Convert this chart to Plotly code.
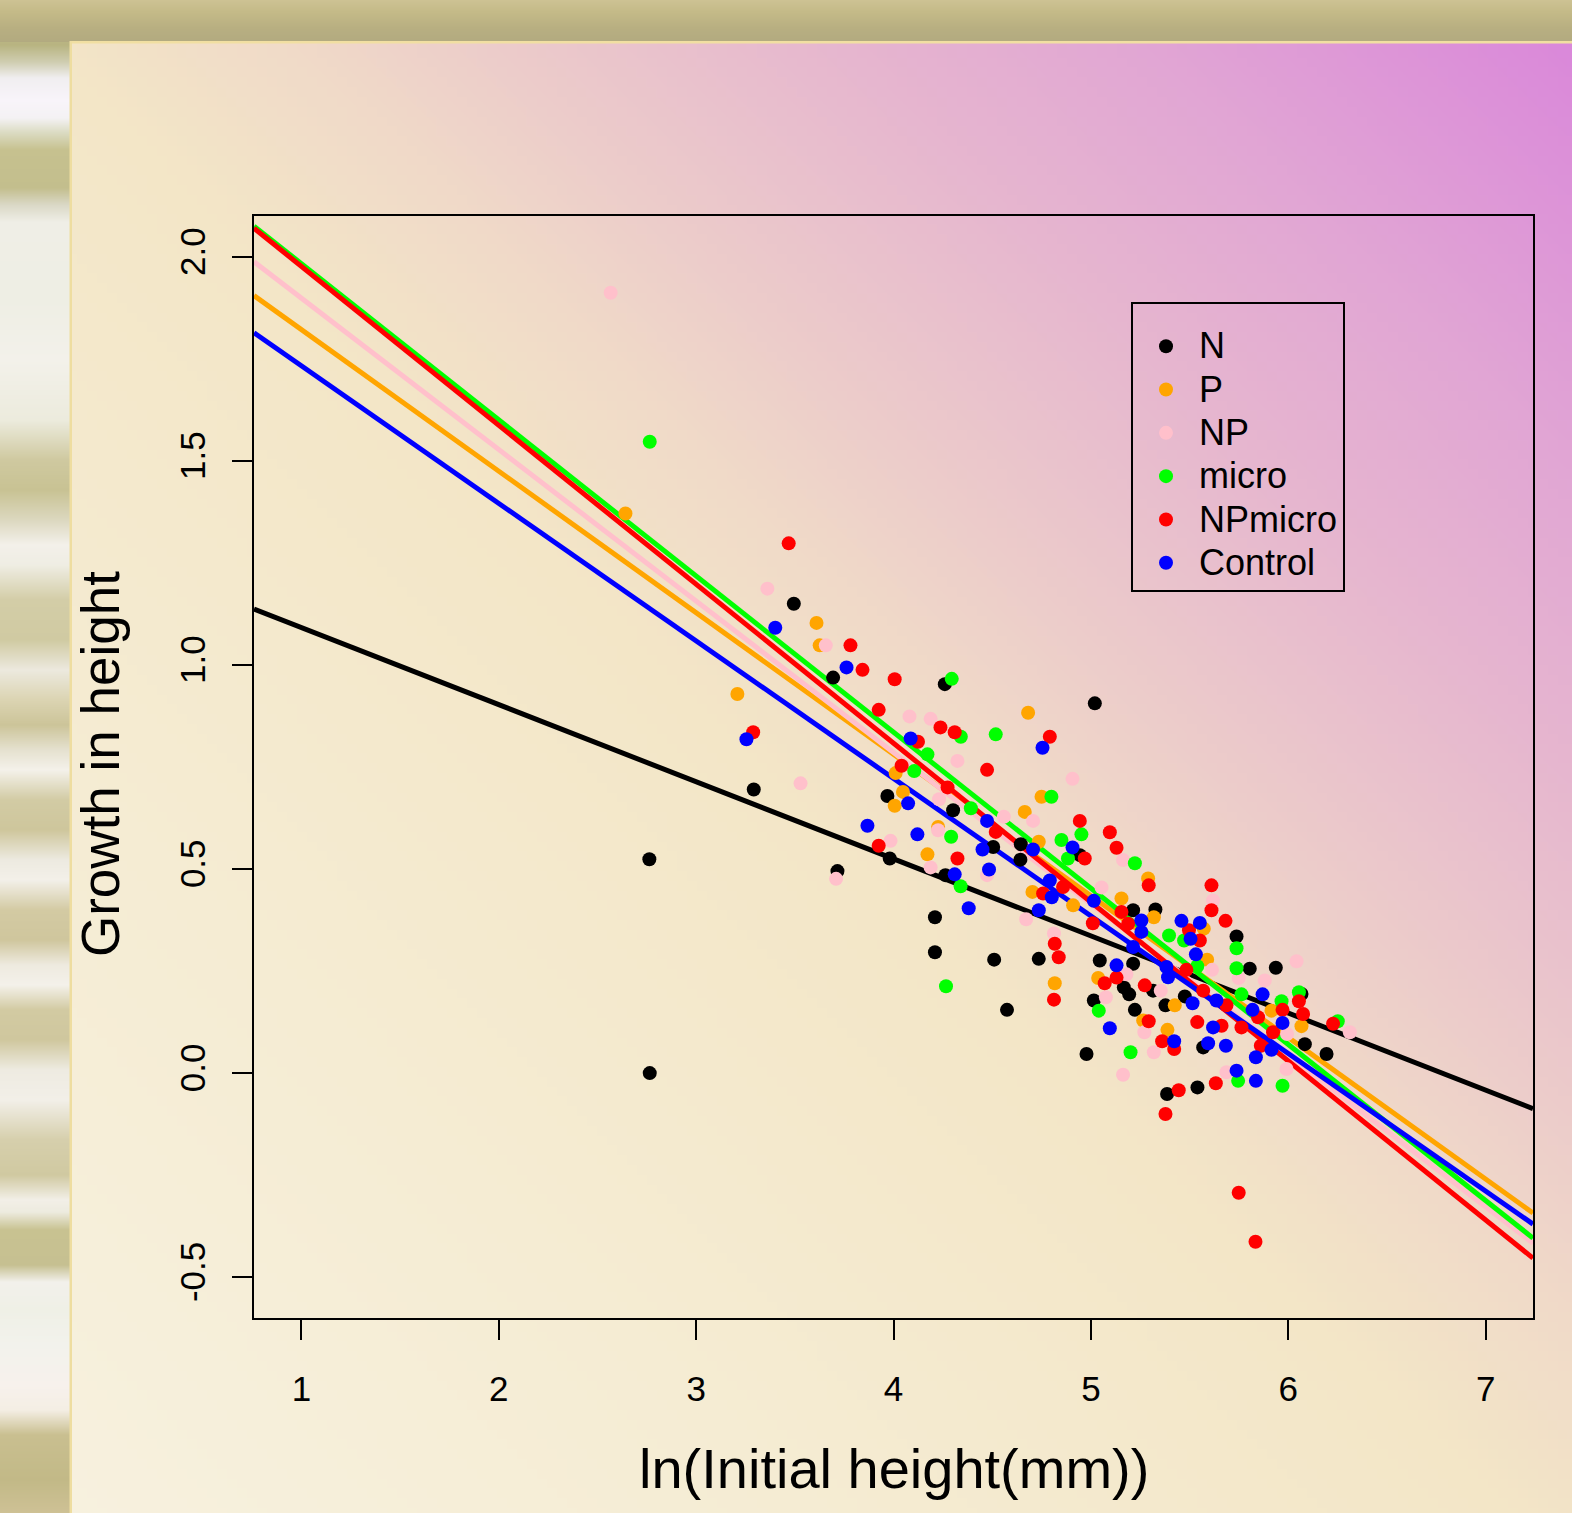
import base64, struct, zlib
import numpy as np
import plotly.graph_objects as go

# ---------------- data ----------------
groups = ["N", "P", "NP", "micro", "NPmicro", "Control"]
colors = ["#000000", "#FFA500", "#FFC0CB", "#00FF00", "#FF0000", "#0000FF"]

N_x = [2.763, 2.765, 3.495, 3.694, 4.260, 5.020, 3.292, 3.969, 4.302, 4.505, 4.645, 4.643, 4.944, 3.981,
       3.716, 4.263, 4.210, 4.210, 4.510, 4.736, 4.575, 5.045, 5.214, 5.167, 5.194, 5.015, 5.223, 4.978,
       5.214, 5.327, 5.315, 5.378, 5.476, 5.386, 5.540, 5.569, 5.738, 5.805, 5.937, 6.067, 6.084, 6.194]
N_y = [0.524, 0.000, 1.150, 0.969, 0.953, 0.906, 0.695, 0.679, 0.644, 0.554, 0.561, 0.523, 0.534, 0.526,
       0.495, 0.485, 0.382, 0.296, 0.278, 0.280, 0.155, 0.276, 0.268, 0.210, 0.193, 0.178, 0.155, 0.047,
       0.399, 0.401, 0.202, 0.166, 0.188, -0.051, -0.035, 0.063, 0.335, 0.256, 0.258, 0.194, 0.071, 0.047]

P_x = [2.642, 3.209, 3.610, 3.626, 4.682, 4.011, 4.048, 4.006, 4.750, 4.665, 4.226, 4.172, 4.704, 4.736,
       5.290, 4.910, 5.155, 5.319, 5.572, 5.589, 4.817, 5.037, 5.265, 5.388, 5.425, 5.915, 6.067]
P_y = [1.371, 0.929, 1.103, 1.048, 0.883, 0.735, 0.689, 0.655, 0.677, 0.640, 0.603, 0.536, 0.444, 0.567,
       0.477, 0.411, 0.428, 0.382, 0.354, 0.278, 0.220, 0.233, 0.129, 0.106, 0.166, 0.153, 0.115]

NP_x = [2.567, 3.361, 3.657, 4.081, 4.188, 4.324, 4.907, 3.529, 4.231, 4.226, 4.559, 4.707, 3.985, 4.188,
        4.474, 3.709, 5.163, 5.619, 5.054, 4.672, 4.813, 5.180, 5.076, 5.354, 5.614, 5.749, 5.881, 6.042,
        5.994, 6.312, 5.271, 5.319, 5.163, 5.687, 5.991]
NP_y = [1.912, 1.187, 1.048, 0.874, 0.868, 0.765, 0.721, 0.710, 0.671, 0.595, 0.628, 0.618, 0.569, 0.504,
        0.485, 0.476, 0.522, 0.423, 0.455, 0.377, 0.342, 0.242, 0.186, 0.202, 0.253, 0.233, 0.227, 0.274,
        0.096, 0.100, 0.100, 0.051, -0.004, 0.002, 0.010]

micro_x = [2.765, 4.295, 4.341, 4.518, 4.172, 4.105, 4.392, 4.800, 4.952, 4.851, 4.884, 4.292, 4.340, 4.266,
           5.223, 5.396, 5.472, 5.539, 5.738, 5.738, 5.763, 6.054, 5.966, 5.040, 5.201, 5.746, 5.971, 6.251]
micro_y = [1.547, 0.966, 0.824, 0.830, 0.781, 0.740, 0.649, 0.677, 0.585, 0.571, 0.526, 0.579, 0.458, 0.213,
           0.514, 0.337, 0.325, 0.262, 0.306, 0.257, 0.193, 0.198, 0.176, 0.153, 0.051, -0.019, -0.031, 0.127]

NPmicro_x = [3.469, 3.782, 3.843, 4.006, 3.925, 4.238, 4.310, 4.792, 3.289, 4.124, 4.474, 4.041, 4.274, 4.944,
             4.518, 3.925, 4.324, 4.969, 4.859, 4.758, 5.096, 5.130, 5.293, 5.611, 5.611, 5.682, 5.155, 5.189,
             5.010, 5.497, 5.552, 5.484, 4.817, 4.837, 5.070, 5.130, 5.273, 4.813, 5.293, 5.361, 5.422, 5.539,
             5.662, 5.569, 5.687, 5.847, 5.763, 5.861, 5.923, 5.971, 6.054, 6.075, 6.227, 5.633, 5.445, 5.378,
             5.749, 5.834]
NPmicro_y = [1.298, 1.048, 0.988, 0.965, 0.890, 0.847, 0.835, 0.824, 0.835, 0.812, 0.743, 0.753, 0.700, 0.618,
             0.591, 0.557, 0.526, 0.526, 0.456, 0.440, 0.590, 0.552, 0.460, 0.460, 0.399, 0.373, 0.395, 0.366,
             0.367, 0.350, 0.325, 0.253, 0.317, 0.284, 0.220, 0.234, 0.215, 0.180, 0.127, 0.078, 0.059, 0.125,
             0.116, 0.202, 0.166, 0.137, 0.112, 0.067, 0.100, 0.155, 0.176, 0.145, 0.121, -0.025, -0.042, -0.100,
             -0.293, -0.413]

Control_x = [3.401, 3.762, 3.255, 4.087, 4.074, 3.868, 4.121, 4.755, 4.474, 4.451, 4.907, 4.707, 4.310, 4.484,
             4.792, 4.802, 5.015, 4.381, 4.736, 5.256, 5.256, 5.459, 5.552, 5.505, 5.532, 5.214, 5.130, 5.383,
             5.391, 5.515, 5.636, 5.819, 5.870, 5.971, 5.619, 5.422, 5.594, 5.684, 5.915, 5.836, 5.738, 5.836,
             5.096]
Control_y = [1.091, 0.994, 0.818, 0.820, 0.661, 0.606, 0.585, 0.797, 0.618, 0.548, 0.553, 0.548, 0.487, 0.499,
             0.472, 0.431, 0.422, 0.404, 0.399, 0.374, 0.346, 0.373, 0.368, 0.329, 0.291, 0.309, 0.264, 0.260,
             0.235, 0.171, 0.178, 0.155, 0.193, 0.123, 0.112, 0.078, 0.073, 0.067, 0.057, 0.039, 0.006, -0.019,
             0.110]

# fitted regression lines (intercept, slope) per group
intercepts = [1.2806, 2.1687, 2.2700, 2.3658, 2.3660, 2.0700]
slopes = [-0.1889, -0.3469, -0.3711, -0.3826, -0.3894, -0.3370]

x_ticks = [1, 2, 3, 4, 5, 6, 7]
y_ticks = [-0.5, 0.0, 0.5, 1.0, 1.5, 2.0]
y_tick_labels = ["-0.5", "0.0", "0.5", "1.0", "1.5", "2.0"]
x_range = [0.76, 7.24]
y_range = [-0.6, 2.1]

xs = [N_x, P_x, NP_x, micro_x, NPmicro_x, Control_x]
ys = [N_y, P_y, NP_y, micro_y, NPmicro_y, Control_y]

# ---------------- layout geometry ----------------
W, H = 1572, 1513
ML, MR, MT, MB = 254, 39, 216, 195
PW, PH = W - ML - MR, H - MT - MB


def paper_x(px):
    return (px - ML) / PW


def paper_y(py):
    return (H - MB - py) / PH


# ---------------- background images ----------------
def hex2rgb(h):
    return [int(h[1:3], 16), int(h[3:5], 16), int(h[5:7], 16)]


def interp_colors(vals, stops):
    pos = np.array([s[0] for s in stops], float)
    cols = np.array([hex2rgb(s[1]) for s in stops], float)
    out = np.stack([np.interp(vals, pos, cols[:, k]) for k in range(3)], axis=-1)
    return np.clip(np.round(out), 0, 255).astype(np.uint8)


def png_uri(arr):
    h, w, _ = arr.shape
    raw = b"".join(b"\x00" + arr[i].tobytes() for i in range(h))

    def chunk(t, d):
        c = struct.pack(">I", len(d)) + t + d
        return c + struct.pack(">I", zlib.crc32(t + d) & 0xFFFFFFFF)

    png = (b"\x89PNG\r\n\x1a\n" + chunk(b"IHDR", struct.pack(">IIBBBBB", w, h, 8, 2, 0, 0, 0))
           + chunk(b"IDAT", zlib.compress(raw, 9)) + chunk(b"IEND", b""))
    return "data:image/png;base64," + base64.b64encode(png).decode()


strip_stops = [(0, '#CFC59D'), (18, '#C3BC8B'), (45, '#B8B481'), (62, '#CFCDB0'), (78, '#F0EEF0'),
               (100, '#F8F4FA'), (118, '#F4F2F4'), (132, '#DCDCC4'), (150, '#C6C18F'), (188, '#C3BE8D'),
               (205, '#DAD8C6'), (222, '#EFEEE6'), (300, '#EEEEE4'), (360, '#F3F1EA'), (420, '#ECEBDD'),
               (460, '#CFC9A0'), (490, '#C8C293'), (520, '#DCD8BF'), (545, '#F3F0EA'), (565, '#EFEDE3'),
               (600, '#D3CDA7'), (640, '#D0CAA2'), (670, '#ECE9DE'), (700, '#DBD4B2'), (725, '#CCC499'),
               (750, '#E5E1CF'), (770, '#F4F1EA'), (800, '#D2CBA4'), (830, '#CEC69C'), (860, '#EDEAE0'),
               (880, '#F3F0E9'), (910, '#D3CAA3'), (940, '#CFC69D'), (965, '#EEEADF'), (985, '#F4F1EA'),
               (1010, '#D2CAA2'), (1040, '#CFC79E'), (1070, '#EEEBE1'), (1100, '#F2EFE8'), (1140, '#D6CFAC'),
               (1175, '#D0C9A1'), (1200, '#F2EFE7'), (1212, '#EDEBDF'), (1230, '#C8C291'), (1265, '#C6C091'),
               (1282, '#F2F0EB'), (1310, '#EFF0E6'), (1345, '#F2F2EC'), (1385, '#F7F1EC'), (1410, '#F4EEE4'),
               (1435, '#C9BF90'), (1480, '#C2B987'), (1513, '#CEC195')]
top_stops = [(0, '#CDC293'), (12, '#C4BA88'), (28, '#B8AF81'), (42, '#B2AA80')]
panel_stops = [(-1471, '#F7F1DF'), (-700, '#F5ECD3'), (0, '#F3E6C7'), (250, '#F0DAC8'), (450, '#ECCCCA'),
               (800, '#E6B6CF'), (1100, '#E1A6D4'), (1530, '#DA88DA')]

rows = np.arange(H) + 0.5
strip = interp_colors(rows, strip_stops)[:, None, :].repeat(2, axis=1)
trows = np.arange(42) + 0.5
topimg = interp_colors(trows, top_stops)[:, None, :].repeat(2, axis=1)
PX0, PY0 = 71, 43
NI, NJ = 150, 150
gx = PX0 + (np.arange(NJ) + 0.5) * (W - PX0) / NJ
gy = PY0 + (np.arange(NI) + 0.5) * (H - PY0) / NI
U = gx[None, :] - gy[:, None]
panel = interp_colors(U, panel_stops)

images = [
    dict(source=png_uri(strip), xref="paper", yref="paper", x=paper_x(0), y=paper_y(0),
         sizex=71 / PW, sizey=H / PH, xanchor="left", yanchor="top", sizing="stretch", layer="below"),
    dict(source=png_uri(topimg), xref="paper", yref="paper", x=paper_x(0), y=paper_y(0),
         sizex=W / PW, sizey=42 / PH, xanchor="left", yanchor="top", sizing="stretch", layer="below"),
    dict(source=png_uri(panel), xref="paper", yref="paper", x=paper_x(PX0), y=paper_y(PY0),
         sizex=(W - PX0) / PW, sizey=(H - PY0) / PH, xanchor="left", yanchor="top", sizing="stretch",
         layer="below"),
]

shapes = [
    dict(type="rect", xref="paper", yref="paper", x0=paper_x(70), x1=paper_x(W), y0=paper_y(41),
         y1=paper_y(43.5), fillcolor="#F1DFA2", line=dict(width=0), layer="below"),
    dict(type="rect", xref="paper", yref="paper", x0=paper_x(69.5), x1=paper_x(72), y0=paper_y(41),
         y1=paper_y(H), fillcolor="#EEDDA0", line=dict(width=0), layer="below"),
]

# ---------------- figure ----------------
FONT = "Liberation Sans, Arial, Helvetica, sans-serif"
fig = go.Figure()

for g, c, a, b in zip(groups, colors, intercepts, slopes):
    fig.add_trace(go.Scatter(x=x_range, y=[a + b * x for x in x_range], mode="lines",
                             line=dict(color=c, width=5), showlegend=False, hoverinfo="skip",
                             legendgroup=g))

for g, c, x, y in zip(groups, colors, xs, ys):
    fig.add_trace(go.Scatter(x=x, y=y, mode="markers", name="<span style='font-size:36px'>%s</span>" % g,
                             legendgroup=g, marker=dict(color=c, size=14, line=dict(width=0))))

axis_common = dict(showgrid=False, zeroline=False, showline=True, linecolor="black", linewidth=2,
                   mirror=True, ticks="outside", ticklen=20, tickwidth=2, tickcolor="black",
                   tickfont=dict(family=FONT, size=35, color="black"))

fig.update_xaxes(range=x_range, tickmode="array", tickvals=x_ticks, ticktext=[str(v) for v in x_ticks],
                 ticklabelstandoff=19, **axis_common)
fig.update_yaxes(range=y_range, tickmode="array", tickvals=y_ticks, ticktext=y_tick_labels,
                 tickangle=-90, ticklabelstandoff=13, **axis_common)

fig.update_layout(
    width=W, height=H, autosize=False,
    margin=dict(l=ML, r=MR, t=MT, b=MB, pad=0),
    paper_bgcolor="#F3E6C7", plot_bgcolor="rgba(0,0,0,0)",
    images=images, shapes=shapes,
    font=dict(family=FONT, color="black"),
    legend=dict(x=paper_x(1131), y=paper_y(302), xanchor="left", yanchor="top",
                bgcolor="rgba(0,0,0,0)", bordercolor="black", borderwidth=2, itemwidth=56,
                title=dict(text=" ", font=dict(family=FONT, size=12, color="black")),
                font=dict(family=FONT, size=31, color="black"), tracegroupgap=0),
    annotations=[
        dict(text="ln(Initial height(mm))", xref="paper", yref="paper", x=0.5, y=paper_y(1469),
             xanchor="center", yanchor="middle", showarrow=False,
             font=dict(family=FONT, size=56, color="black")),
        dict(text="Growth in height", xref="paper", yref="paper", x=paper_x(100), y=paper_y(764),
             xanchor="center", yanchor="middle", textangle=-90, showarrow=False,
             font=dict(family=FONT, size=53, color="black")),
    ],
    showlegend=True,
)

fig.write_html("out.html", config={"displayModeBar": False},
               post_script="document.body.style.margin='0';")
